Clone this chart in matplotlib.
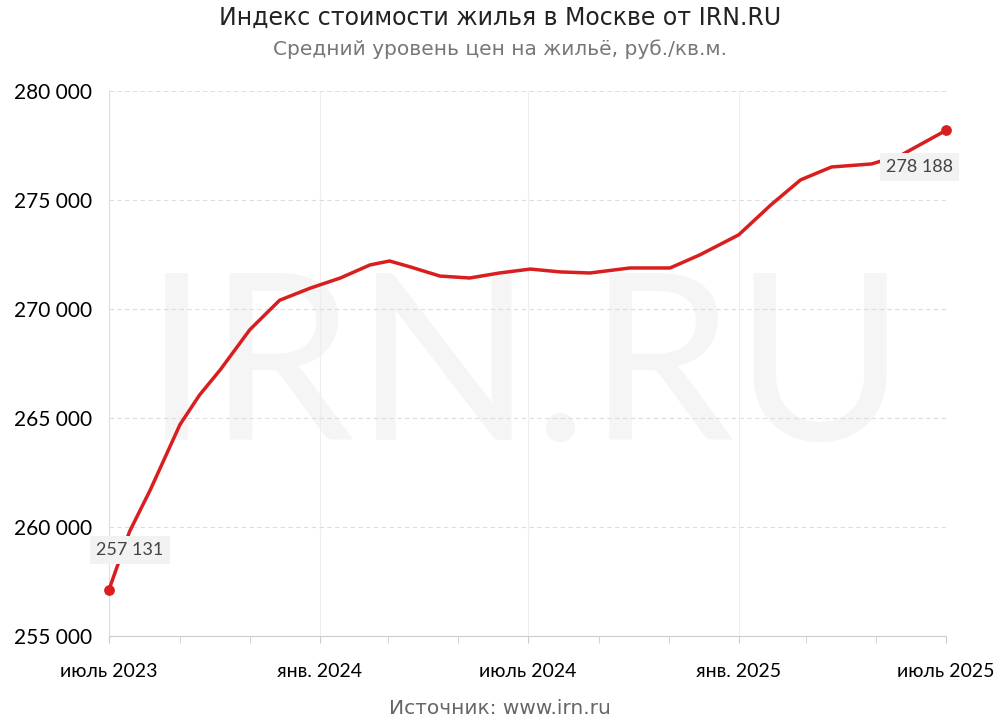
import matplotlib
matplotlib.use("Agg")
import matplotlib.pyplot as plt
import numpy as np
import pandas as pd

plt.rcParams['font.family'] = ['Lato', 'DejaVu Sans']

# === Data ===
dates = ["2023-07-01", "2023-07-19", "2023-08-06", "2023-09-01", "2023-09-18", "2023-10-06",
         "2023-11-01", "2023-11-27", "2023-12-24", "2024-01-19", "2024-02-14", "2024-03-02",
         "2024-03-20", "2024-04-15", "2024-05-11", "2024-06-06", "2024-07-03", "2024-07-29",
         "2024-08-24", "2024-09-28", "2024-11-02", "2024-11-28", "2025-01-01", "2025-01-29",
         "2025-02-24", "2025-03-23", "2025-04-27", "2025-05-23", "2025-07-01"]
values = [257131, 259800, 261700, 264700, 266050, 267200,
          269050, 270400, 270960, 271420, 272020, 272200,
          271930, 271510, 271420, 271650, 271830, 271700,
          271650, 271880, 271880, 272480, 273400, 274770,
          275920, 276510, 276650, 277060, 278188]
x_ticks = ["2023-07-01", "2024-01-01", "2024-07-01", "2025-01-01", "2025-07-01"]
x_tick_labels = ["июль 2023", "янв. 2024", "июль 2024", "янв. 2025", "июль 2025"]
minor_ticks = ["2023-09-01", "2023-11-01", "2024-03-01", "2024-05-01",
               "2024-09-01", "2024-11-01", "2025-03-01", "2025-05-01"]

dt = pd.to_datetime(dates)
red = "#d81e1e"

fig = plt.figure(figsize=(10, 7.27), dpi=100)
ax = fig.add_axes([0.109, 0.125, 0.837, 0.75])

# watermark behind the line
ax.text(0.525, 0.485, "IRN.RU", ha="center", va="center", transform=fig.transFigure,
        fontsize=168, color="#f5f5f5", zorder=0)

ax.plot(dt, values, color=red, lw=2.5, zorder=3, solid_capstyle="round", solid_joinstyle="round")
ax.scatter([dt[0], dt[-1]], [values[0], values[-1]], color=red, s=45, zorder=4, clip_on=False)

box = dict(boxstyle="square,pad=0.35", fc="#f2f2f2", ec="none")
ax.annotate(f"{values[0]:,}".replace(",", " "), (dt[0], values[0]), xytext=(-9, 25),
            textcoords="offset points", fontsize=13, color="#444444", bbox=box, ha="left", zorder=5)
ax.annotate(f"{values[-1]:,}".replace(",", " "), (dt[-1], values[-1]), xytext=(5, -30),
            textcoords="offset points", fontsize=13, color="#444444", bbox=box, ha="right", zorder=5)

ax.set_ylim(255000, 280000)
ax.set_xlim(pd.Timestamp("2023-07-01"), pd.Timestamp("2025-07-01"))
yt = np.arange(255000, 280001, 5000)
ax.set_yticks(yt)
ax.set_yticklabels([f"{v:,}".replace(",", " ") for v in yt], fontsize=15)
ax.set_xticks(pd.to_datetime(x_ticks))
ax.set_xticklabels(x_tick_labels, fontsize=14)
ax.set_xticks(pd.to_datetime(minor_ticks), minor=True)
ax.tick_params(axis="y", length=0, pad=12)
ax.tick_params(axis="x", which="both", length=5, color="#cccccc", pad=14)
ax.grid(axis="y", ls=(0, (4, 3)), color="#dddddd", lw=0.8, zorder=1)
ax.grid(axis="x", color="#eeeeee", lw=0.8, zorder=1)
for s in ["top", "right"]:
    ax.spines[s].set_visible(False)
ax.spines["left"].set_color("#dddddd")
ax.spines["bottom"].set_color("#cccccc")

fig.text(0.5, 0.975, "Индекс стоимости жилья в Москве от IRN.RU", ha="center", va="center",
         fontsize=17, color="#222222", family="DejaVu Sans")
fig.text(0.5, 0.933, "Средний уровень цен на жильё, руб./кв.м.", ha="center", va="center",
         fontsize=14.5, color="#777777", family="DejaVu Sans")
fig.text(0.5, 0.012, "Источник: www.irn.ru", ha="center", va="bottom", fontsize=14.5,
         color="#666666", family="DejaVu Sans")

fig.savefig("out.png", dpi=100)
